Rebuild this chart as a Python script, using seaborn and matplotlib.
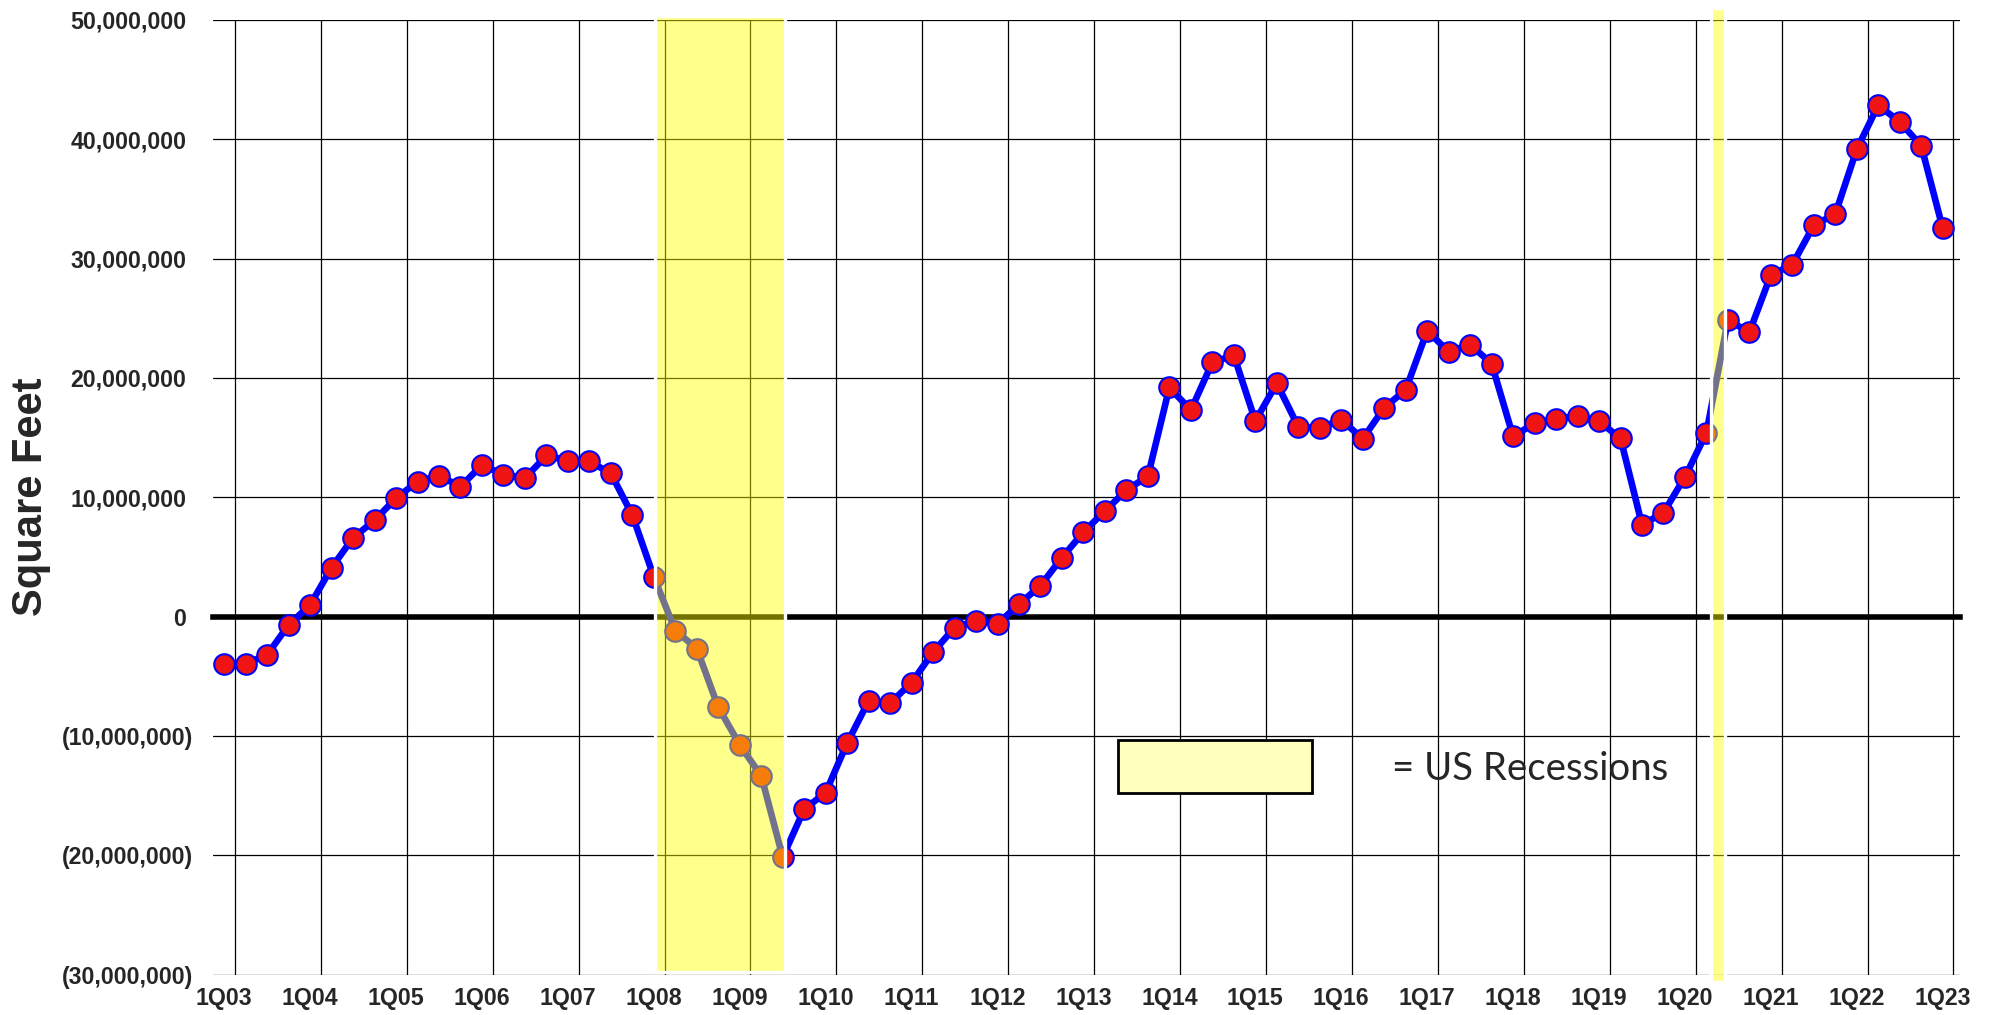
import numpy as np
import pandas as pd
import matplotlib
matplotlib.use("Agg")
import matplotlib.pyplot as plt
import seaborn as sns
from matplotlib.patches import Rectangle
from matplotlib.ticker import FixedLocator, FuncFormatter
from matplotlib.transforms import ScaledTranslation

# ---------------- data ----------------
years = list(range(2003, 2024))
quarters = [f"{q}Q{y % 100:02d}" for y in years for q in range(1, 5)][:81]

# Net absorption, millions of square feet
sqft_millions = [
    -3.94, -3.94, -3.20, -0.70,          # 2003
    0.97, 4.10, 6.60, 8.06,              # 2004
    9.93, 11.30, 11.80, 10.90,           # 2005
    12.70, 11.90, 11.60, 13.50,          # 2006
    13.05, 13.00, 12.00, 8.50,           # 2007
    3.33, -1.17, -2.68, -7.60,           # 2008
    -10.75, -13.35, -20.17, -16.15,      # 2009
    -14.75, -10.60, -7.07, -7.26,        # 2010
    -5.53, -2.99, -0.92, -0.34,          # 2011
    -0.61, 1.03, 2.60, 4.94,             # 2012
    7.08, 8.85, 10.60, 11.76,            # 2013
    19.20, 17.30, 21.30, 21.90,          # 2014
    16.40, 19.55, 15.90, 15.80,          # 2015
    16.50, 14.90, 17.50, 19.00,          # 2016
    23.95, 22.20, 22.80, 21.20,          # 2017
    15.10, 16.20, 16.60, 16.80,          # 2018
    16.35, 14.95, 7.70, 8.70,            # 2019
    11.70, 15.40, 24.84, 23.84,          # 2020
    28.63, 29.50, 32.80, 33.74,          # 2021
    39.18, 42.86, 41.46, 39.46,          # 2022
    32.54,                               # 2023
]

tick_labels = ["1Q03", "1Q04", "1Q05", "1Q06", "1Q07", "1Q08", "1Q09",
               "1Q10", "1Q11", "1Q12", "1Q13", "1Q14", "1Q15", "1Q16",
               "1Q17", "1Q18", "1Q19", "1Q20", "1Q21", "1Q22", "1Q23"]

# recession periods, in quarter-index units
recession_start = [20.06, 69.23]
recession_end = [26.11, 69.87]

y_ticks = [-30e6, -20e6, -10e6, 0, 10e6, 20e6, 30e6, 40e6, 50e6]
y_label = "Square Feet"
legend_text = "= US Recessions"

df = pd.DataFrame({"quarter": quarters,
                   "idx": np.arange(len(quarters)),
                   "sqft": np.array(sqft_millions) * 1e6})

# ---------------- style ----------------
sns.set_theme(style="white")
plt.rcParams["font.family"] = ["Liberation Sans", "DejaVu Sans"]

fig = plt.figure(figsize=(19.93, 10.15), dpi=100)
ax = fig.add_axes([0.1071, 0.0399, 0.8763, 0.9404])

sns.lineplot(data=df, x="idx", y="sqft", ax=ax, color="#0000FF",
             linewidth=4.8, marker="o", markersize=14.8,
             markerfacecolor="#F01414", markeredgecolor="#0000FF",
             markeredgewidth=1.5, zorder=3, solid_joinstyle="round")

ax.set_xlim(-0.5, 80.8)
ax.set_ylim(-30e6, 50e6)

# vertical grid at category boundaries (every 4 quarters)
grid_pos = [quarters.index(t) + 0.5 for t in tick_labels]
ax.xaxis.set_major_locator(FixedLocator(grid_pos))
ax.yaxis.set_major_locator(FixedLocator(y_ticks))


def yfmt(v, pos):
    if v < 0:
        return f"({abs(v):,.0f})"
    return f"{v:,.0f}"


ax.yaxis.set_major_formatter(FuncFormatter(yfmt))
ax.grid(True, color="black", linewidth=0.9)
ax.set_axisbelow(True)

for s in ["left", "right", "top"]:
    ax.spines[s].set_visible(False)
ax.spines["bottom"].set_position(("data", 0))
ax.spines["bottom"].set_linewidth(4.0)
ax.spines["bottom"].set_color("black")
ax.tick_params(axis="x", which="major", direction="out", length=4.8,
               width=3, color="black", labelbottom=False)
ax.tick_params(axis="y", length=0, pad=14.4, labelsize=16.7)
for lbl in ax.get_yticklabels():
    lbl.set_fontweight("bold")

# category labels on a secondary axis at the bottom
sec = ax.secondary_xaxis("bottom")
sec.set_xticks([quarters.index(t) for t in tick_labels], labels=tick_labels,
               fontsize=16.7, fontweight="bold")
sec.tick_params(length=0, pad=9)
sec.spines["bottom"].set_visible(False)

ax.set_xlabel("")
ax.set_ylabel(y_label, fontsize=30, fontweight="bold")
ax.yaxis.set_label_coords(-0.093, 0.5)

# recession shading (semi-transparent yellow on top, white side borders)
shade_y = [(0.003, 1.0042), (-0.0075, 1.0126)]
for (x0, x1), (yb, yt) in zip(zip(recession_start, recession_end), shade_y):
    ax.axvspan(x0, x1, ymin=yb, ymax=yt, facecolor=(1, 1, 0, 0.45),
               edgecolor="white", linewidth=2.4, zorder=5, clip_on=False)

# legend box
ax.add_patch(Rectangle((0.5182, 0.1902), 0.1106, 0.0558,
                       transform=ax.transAxes, facecolor="#FFFFBE",
                       edgecolor="black", linewidth=2.0, zorder=6))
ax.text(0.6748, 0.2038, legend_text, transform=ax.transAxes,
        fontsize=27.6, ha="left", va="baseline", zorder=6,
        family=["Lato", "DejaVu Sans"])

# positive labels sit left of negative ones (room for the closing parenthesis)
fig.canvas.draw()
shift = ScaledTranslation(-7.3 / 100, 0, fig.dpi_scale_trans)
for tick, loc in zip(ax.yaxis.get_major_ticks(), ax.yaxis.get_majorticklocs()):
    if loc >= 0:
        tick.label1.set_transform(tick.label1.get_transform() + shift)

fig.savefig("out.png", dpi=100)
